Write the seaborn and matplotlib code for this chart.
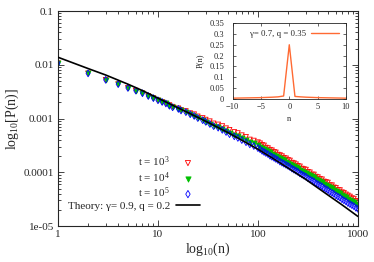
import numpy as np
import matplotlib
matplotlib.use("Agg")
import matplotlib.pyplot as plt
import seaborn as sns
from matplotlib.ticker import LogLocator, NullFormatter

# --- data (log10 P values) ---
n_low = [1, 2, 3, 4, 5, 6, 7, 8, 9]
n_band = [10, 11, 12, 13, 14, 16, 17, 19, 21, 23, 25, 28, 30, 33, 36, 40, 44,
          48, 52, 58, 63, 69, 76, 83, 91, 100,
          105, 110, 115, 120, 126, 132, 138, 145, 151, 158, 166, 174, 182, 191,
          200, 209, 219, 229, 240, 251, 263, 275, 288, 302, 316, 331, 347, 363,
          380, 398, 417, 437, 457, 479, 501, 525, 550, 575, 603, 631, 661, 692,
          724, 759, 794, 832, 871, 912, 955, 1000]

logp_low_t3 = [-1.97, -2.16, -2.28, -2.36, -2.43, -2.48, -2.53, -2.58, -2.62]
logp_low_t4 = [-1.97, -2.16, -2.28, -2.36, -2.43, -2.48, -2.53, -2.58, -2.62]
logp_low_t5 = [-1.97, -2.16, -2.28, -2.36, -2.43, -2.48, -2.53, -2.58, -2.62]

logp_t3 = [-2.66, -2.69, -2.72, -2.75, -2.78, -2.81, -2.84, -2.86, -2.90, -2.92,
           -2.96, -2.99, -3.02, -3.05, -3.09, -3.11, -3.14, -3.18, -3.21, -3.25,
           -3.27, -3.31, -3.34, -3.39, -3.41, -3.44,
           -3.46, -3.49, -3.50, -3.54, -3.55, -3.58, -3.59, -3.62, -3.63, -3.67,
           -3.68, -3.70, -3.73, -3.74, -3.77, -3.78, -3.82, -3.83, -3.85, -3.88,
           -3.89, -3.93, -3.94, -3.95, -3.99, -4.00, -4.04, -4.04, -4.08, -4.09,
           -4.12, -4.13, -4.17, -4.18, -4.19, -4.24, -4.24, -4.28, -4.29, -4.33,
           -4.33, -4.37, -4.38, -4.41, -4.43, -4.45, -4.48, -4.49, -4.53, -4.54]
logp_t4 = [-2.66, -2.69, -2.72, -2.76, -2.79, -2.82, -2.85, -2.88, -2.92, -2.95,
           -2.99, -3.03, -3.06, -3.10, -3.13, -3.16, -3.19, -3.23, -3.27, -3.30,
           -3.33, -3.36, -3.40, -3.43, -3.46, -3.50,
           -3.52, -3.55, -3.57, -3.59, -3.61, -3.63, -3.65, -3.67, -3.69, -3.71,
           -3.74, -3.76, -3.78, -3.80, -3.82, -3.84, -3.86, -3.88, -3.90, -3.92,
           -3.95, -3.97, -3.99, -4.01, -4.03, -4.05, -4.07, -4.09, -4.12, -4.14,
           -4.16, -4.18, -4.21, -4.23, -4.25, -4.28, -4.30, -4.32, -4.35, -4.37,
           -4.39, -4.42, -4.44, -4.46, -4.49, -4.51, -4.53, -4.55, -4.58, -4.60]
logp_t5 = [-2.66, -2.69, -2.72, -2.76, -2.79, -2.82, -2.85, -2.88, -2.92, -2.95,
           -2.99, -3.03, -3.06, -3.10, -3.14, -3.17, -3.21, -3.25, -3.29, -3.33,
           -3.36, -3.40, -3.44, -3.48, -3.51, -3.55,
           -3.57, -3.60, -3.62, -3.64, -3.66, -3.69, -3.71, -3.73, -3.75, -3.77,
           -3.80, -3.82, -3.84, -3.86, -3.88, -3.90, -3.93, -3.95, -3.97, -3.99,
           -4.02, -4.04, -4.06, -4.08, -4.11, -4.13, -4.15, -4.17, -4.20, -4.22,
           -4.24, -4.26, -4.29, -4.31, -4.33, -4.36, -4.38, -4.40, -4.43, -4.45,
           -4.47, -4.50, -4.52, -4.54, -4.57, -4.59, -4.61, -4.63, -4.66, -4.68]

theory_n = [1, 2, 3, 5, 7, 10, 15, 20, 30, 50, 70, 100, 150, 200, 300, 500, 700, 1000]
theory_logp = [-1.86, -2.07, -2.19, -2.36, -2.48, -2.62, -2.78, -2.89, -3.05, -3.26,
               -3.41, -3.57, -3.77, -3.92, -4.13, -4.42, -4.61, -4.82]

inset_n = [-10, -9, -8, -7, -6, -5, -4, -3, -2, -1, 0, 1, 2, 3, 4, 5, 6, 7, 8, 9, 10]
inset_p = [0.004, 0.0045, 0.005, 0.0055, 0.006, 0.0065, 0.0075, 0.0085, 0.010, 0.014,
           0.25, 0.012, 0.010, 0.0085, 0.0075, 0.0065, 0.006, 0.0055, 0.005, 0.0045, 0.004]

yticks = [1e-5, 1e-4, 1e-3, 1e-2, 1e-1]
ytick_labels = ["1e-05", "0.0001", "0.001", "0.01", "0.1"]
xticks = [1, 10, 100, 1000]
xtick_labels = ["1", "10", "100", "1000"]

series = [
    ("t = 10$^3$", logp_low_t3, logp_t3, "v", "none", "red"),
    ("t = 10$^4$", logp_low_t4, logp_t4, "v", "#00c000", "#00c000"),
    ("t = 10$^5$", logp_low_t5, logp_t5, "d", "none", "blue"),
]

# --- style ---
sns.set_style("ticks")
plt.rcParams["font.family"] = ["Liberation Serif", "DejaVu Serif"]
plt.rcParams["mathtext.fontset"] = "custom"
plt.rcParams["mathtext.rm"] = "Liberation Serif"
plt.rcParams["mathtext.it"] = "Liberation Serif:italic"
plt.rcParams["axes.linewidth"] = 0.8

fig = plt.figure(figsize=(3.74, 2.62), dpi=100)
ax = fig.add_axes([0.155, 0.137, 0.802, 0.821])

# Plot the data series
for label, low, band, marker, fc, ec in series:
    x = n_low + n_band
    y = np.power(10.0, low + band)
    sns.scatterplot(x=x, y=y, ax=ax, marker=marker, s=12, facecolor=fc,
                    edgecolor=ec, linewidth=0.6, label=label, zorder=2)

# Plot the theory curve
sns.lineplot(x=theory_n, y=np.power(10.0, theory_logp), ax=ax, color="black",
             lw=1.2, label="Theory: \u03b3= 0.9, q = 0.2", zorder=3)

# Setting up the axes
ax.set_xscale("log")
ax.set_yscale("log")
ax.set_xlim(1, 1000)
ax.set_ylim(1e-5, 0.1)
ax.set_xticks(xticks)
ax.set_xticklabels(xtick_labels)
ax.set_yticks(yticks)
ax.set_yticklabels(ytick_labels)
ax.xaxis.set_minor_locator(LogLocator(base=10, subs=np.arange(2, 10)))
ax.yaxis.set_minor_locator(LogLocator(base=10, subs=np.arange(2, 10)))
ax.xaxis.set_minor_formatter(NullFormatter())
ax.yaxis.set_minor_formatter(NullFormatter())
ax.tick_params(which="both", direction="in", top=True, right=True,
               labelsize=8, width=0.6, pad=3)
ax.tick_params(which="major", length=4)
ax.tick_params(which="minor", length=2)
ax.set_xlabel("log$_{10}$(n)", fontsize=10, labelpad=1)
ax.set_ylabel("log$_{10}$[P(n)]", fontsize=10, labelpad=2)

# Legend with text on the left (rows are right-aligned)
leg = ax.legend(loc="lower right", bbox_to_anchor=(0.50, 0.035), frameon=False,
                markerfirst=False, fontsize=8, handlelength=2.2,
                handletextpad=0.5, labelspacing=0.08, borderpad=0.2)
for h in leg.legend_handles[:3]:
    h.set_sizes([14])

# Inset
axin = fig.add_axes([0.622, 0.622, 0.303, 0.290])
sns.lineplot(x=inset_n, y=inset_p, ax=axin, color="#ff6a33", lw=1.0,
             label="\u03b3= 0.7, q = 0.35")
axin.set_xlim(-10, 10)
axin.set_ylim(0, 0.35)
axin.set_xticks([-10, -5, 0, 5, 10])
axin.set_yticks([0, 0.05, 0.1, 0.15, 0.2, 0.25, 0.3, 0.35])
axin.set_yticklabels(["0", "0.05", "0.1", "0.15", "0.2", "0.25", "0.3", "0.35"])
axin.tick_params(which="both", direction="in", top=True, right=True,
                 labelsize=6, width=0.5, length=2.5)
axin.tick_params(axis="y", pad=6)
axin.tick_params(axis="x", pad=3)
for s in axin.spines.values():
    s.set_linewidth(0.6)
axin.set_xlabel("n", fontsize=6, labelpad=3)
axin.set_ylabel("P(n)", fontsize=6, labelpad=4)
axin.legend(loc="upper right", frameon=False, markerfirst=False, fontsize=6.3,
            handlelength=3.2, handletextpad=0.6, borderpad=0.3)

fig.savefig("out.png", dpi=100)
